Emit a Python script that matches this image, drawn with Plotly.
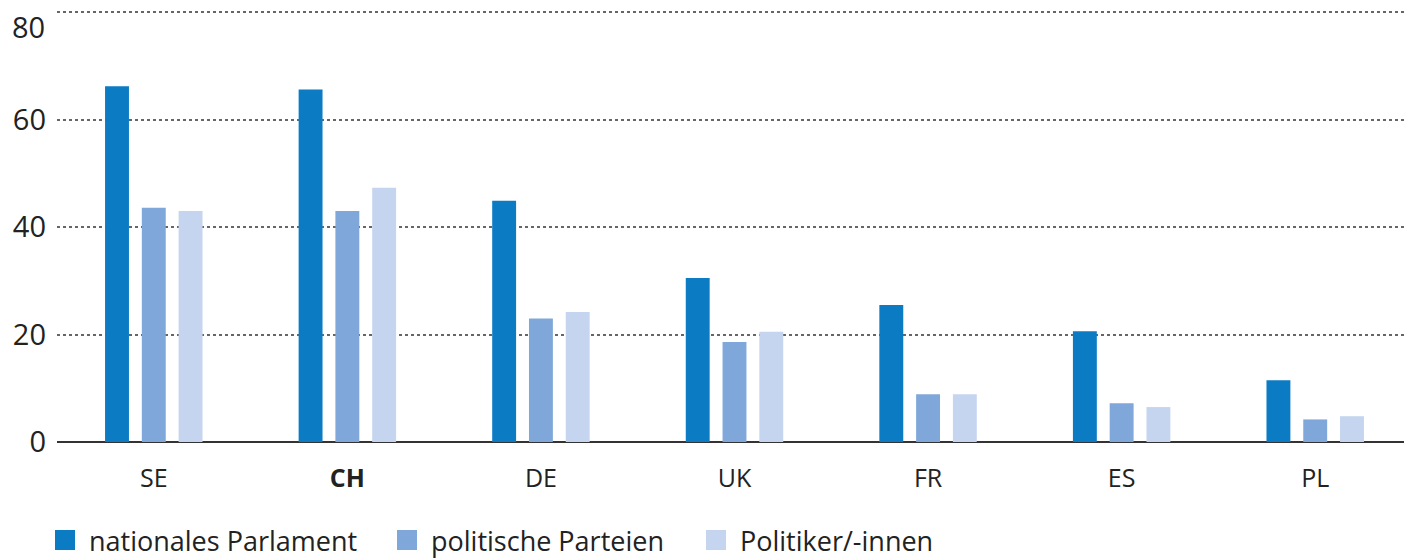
import plotly.graph_objects as go

countries = ["SE", "CH", "DE", "UK", "FR", "ES", "PL"]
tick_labels = ["SE", "<b>CH</b>", "DE", "UK", "FR", "ES", "PL"]
y_ticks = [0, 20, 40, 60, 80]
series_names = ["nationales Parlament", "politische Parteien", "Politiker/-innen"]
parlament = [66.2, 65.6, 44.9, 30.5, 25.5, 20.6, 11.5]
parteien = [43.6, 43.0, 23.0, 18.6, 8.9, 7.2, 4.2]
politiker = [43.0, 47.3, 24.2, 20.5, 8.9, 6.5, 4.8]
colors = ["#0b7bc4", "#7fa7d9", "#c5d5ef"]

FONT = "Open Sans, Noto Sans, sans-serif"

# the page body has an 8px margin; work in page pixels and convert
OFF = 8
W, H = 1412 - OFF, 559 - OFF
L, T, B = 57 - OFF, 10 - OFF, 117
PW = W - L
PH = H - T - B


def px_x(x):
    return (x - OFF - L) / PW


def px_y(y):
    return (H - B - (y - OFF)) / PH


fig = go.Figure()
for name, vals, col in zip(series_names, [parlament, parteien, politiker], colors):
    fig.add_trace(go.Bar(x=countries, y=vals, name=name, marker=dict(color=col, line=dict(width=0)),
                         showlegend=False))

# custom legend (large square swatches)
legend_x = [55, 397, 706]
for name, col, x0 in zip(series_names, colors, legend_x):
    fig.add_shape(type="rect", xref="paper", yref="paper",
                  x0=px_x(x0), x1=px_x(x0 + 20), y0=px_y(550), y1=px_y(530),
                  fillcolor=col, line=dict(width=0))
    fig.add_annotation(text=name, xref="paper", yref="paper",
                       x=px_x(x0 + 32), y=px_y(540),
                       xanchor="left", yanchor="middle", showarrow=False,
                       font=dict(family=FONT, size=27, color="#222"))

# top tick label sits just below its gridline in the reference (top edge is cropped)
y_ticktext = [str(v) for v in y_ticks]
top_label = y_ticktext[-1]
y_ticktext[-1] = ""
fig.add_annotation(text=top_label, xref="paper", yref="paper",
                   x=px_x(47), y=px_y(26), xanchor="right", yanchor="middle",
                   showarrow=False, font=dict(family=FONT, size=29, color="#222"))

fig.update_layout(
    width=W, height=H,
    margin=dict(l=L, r=0, t=T, b=B, autoexpand=False),
    paper_bgcolor="white", plot_bgcolor="white",
    barmode="group", bargap=0.43, bargroupgap=0.35,
    font=dict(family=FONT, color="#222"),
)
fig.update_xaxes(tickvals=countries, ticktext=tick_labels, showgrid=False, showline=False,
                 ticks="", tickfont=dict(size=25, color="#222"), ticklabelstandoff=19,
                 automargin=False)
fig.update_yaxes(range=[0, 80.4], tickvals=y_ticks, ticktext=y_ticktext, showgrid=True,
                 gridcolor="#666", griddash="3px,3px", gridwidth=1.5,
                 zeroline=True, zerolinecolor="#333", zerolinewidth=2,
                 ticks="", tickfont=dict(size=29, color="#222"), ticklabelstandoff=10,
                 ticklabeloverflow="allow", showline=False, automargin=False)

fig.write_html("out.html")
